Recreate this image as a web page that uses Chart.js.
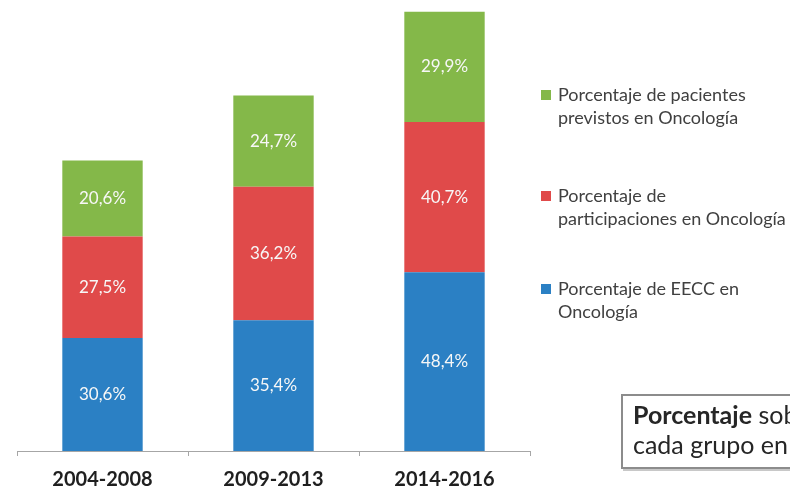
<!DOCTYPE html>
<html>
<head>
<meta charset="utf-8">
<script src="https://cdn.jsdelivr.net/npm/chart.js@4/dist/chart.umd.min.js"></script>
<style>
  html, body { margin: 0; padding: 0; background: #fff; }
  #wrap { width: 790px; height: 490px; position: relative; }
</style>
</head>
<body>
<div id="wrap"><canvas id="chart"></canvas></div>
<script>
// datos
const categories = ['2004-2008', '2009-2013', '2014-2016'];
const eecc = [30.6, 35.4, 48.4];
const participaciones = [27.5, 36.2, 40.7];
const pacientes = [20.6, 24.7, 29.9];
const seriesNames = [
    ['Porcentaje de EECC en', 'Oncología'],
    ['Porcentaje de', 'participaciones en Oncología'],
    ['Porcentaje de pacientes', 'previstos en Oncología']
];
const colors = ['#2b80c4', '#e04a4a', '#84b849'];
const noteBold = 'Porcentaje';
const noteLines = [' sobre', 'cada grupo en el'];

const FONT = 'Lato, "Open Sans", sans-serif';

// etiquetas dentro de las barras
const barLabels = {
    id: 'barLabels',
    afterDatasetsDraw(chart) {
        const ctx = chart.ctx;
        ctx.save();
        ctx.font = '17px ' + FONT;
        ctx.fillStyle = '#f7f7f7';
        ctx.textAlign = 'center';
        ctx.textBaseline = 'middle';
        chart.data.datasets.forEach((ds, i) => {
            chart.getDatasetMeta(i).data.forEach((bar, j) => {
                let p = bar.getProps(['x', 'y', 'base'], true);
                let txt = ds.data[j].toFixed(1).replace('.', ',') + '%';
                ctx.fillText(txt, p.x, (p.y + p.base) / 2);
            });
        });
        ctx.restore();
    }
};

// leyenda a la derecha + recuadro
const sideLegend = {
    id: 'sideLegend',
    afterDraw(chart) {
        const ctx = chart.ctx;
        ctx.save();
        const rows = [95, 196, 289];
        ctx.textBaseline = 'middle';
        ctx.font = '18px ' + FONT;
        for (let k = 0; k < 3; k++) {
            let idx = 2 - k;
            let y = rows[k];
            ctx.fillStyle = colors[idx];
            ctx.fillRect(541, y - 5, 10, 10);
            ctx.fillStyle = '#404040';
            ctx.fillText(seriesNames[idx][0], 558, y);
            ctx.fillText(seriesNames[idx][1], 558, y + 23);
        }

        // recuadro inferior
        ctx.fillStyle = '#c8c8c8';
        ctx.fillRect(623, 468, 170, 3);
        ctx.fillStyle = '#ffffff';
        ctx.fillRect(621, 394, 175, 74);
        ctx.strokeStyle = '#8c8c8c';
        ctx.lineWidth = 2;
        ctx.strokeRect(622, 395, 175, 73);
        ctx.fillStyle = '#262626';
        ctx.font = 'bold 25px ' + FONT;
        ctx.fillText(noteBold, 633, 416);
        let w = ctx.measureText(noteBold).width;
        ctx.font = '25px ' + FONT;
        ctx.fillText(noteLines[0], 633 + w, 416);
        ctx.fillText(noteLines[1], 633, 446);
        ctx.restore();
    }
};

new Chart(document.getElementById('chart'), {
    type: 'bar',
    data: {
        labels: categories,
        datasets: [
            { label: seriesNames[0].join(' '), data: eecc, backgroundColor: colors[0] },
            { label: seriesNames[1].join(' '), data: participaciones, backgroundColor: colors[1] },
            { label: seriesNames[2].join(' '), data: pacientes, backgroundColor: colors[2] }
        ]
    },
    options: {
        responsive: true,
        maintainAspectRatio: false,
        animation: false,
        layout: { padding: { left: 17, right: 260, top: 8, bottom: -14 } },
        datasets: { bar: { categoryPercentage: 1, barPercentage: 0.47 } },
        plugins: {
            legend: { display: false },
            tooltip: { enabled: false }
        },
        scales: {
            x: {
                stacked: true,
                grid: { display: true, offset: true, drawOnChartArea: false, tickLength: 5, color: '#a6a6a6' },
                border: { color: '#a6a6a6', width: 1 },
                ticks: { color: '#1f1f1f', padding: 12, font: { family: FONT, size: 20, weight: 'bold' } }
            },
            y: {
                stacked: true,
                display: false,
                min: 0,
                max: 120
            }
        }
    },
    plugins: [barLabels, sideLegend]
});
</script>
</body>
</html>
